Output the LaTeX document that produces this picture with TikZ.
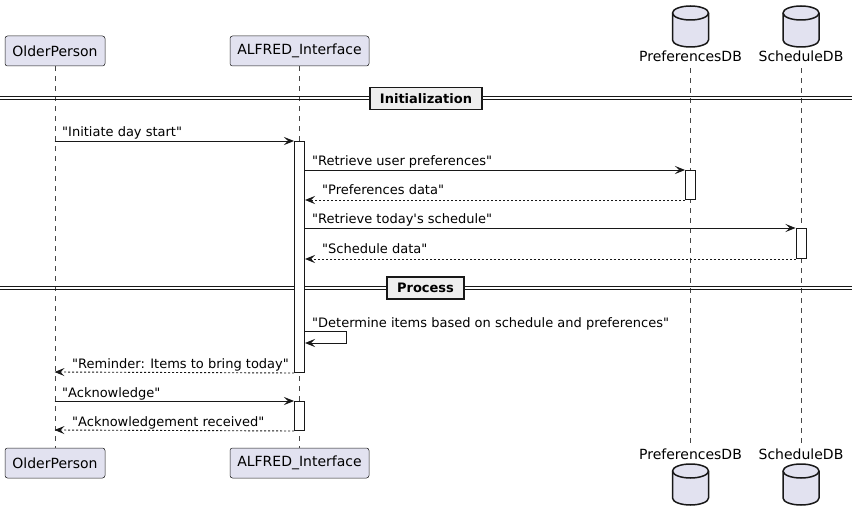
\documentclass[tikz,border=0pt]{standalone}
\usepackage{fontspec}
\newfontfamily\dvs{DejaVu Sans}
\usetikzlibrary{arrows.meta}
\definecolor{partfill}{HTML}{E2E2F0}
\definecolor{ink}{HTML}{181818}
\definecolor{divfill}{HTML}{EEEEEE}
\newcommand\dbcyl[3]{%
  \draw[dbshape] (#1-18,#2+7) -- (#1-18,#3-7)
    arc[start angle=180,end angle=0,x radius=18,y radius=7]
    -- (#1+18,#2+7)
    arc[start angle=0,end angle=-180,x radius=18,y radius=7] -- cycle;
  \draw[dbshape,fill=none] (#1-18,#2+7)
    arc[start angle=180,end angle=0,x radius=18,y radius=7];}
\begin{document}
\begin{tikzpicture}[x=1pt,y=-1pt,
  part/.style={draw=ink, fill=partfill, rounded corners=2.5pt, minimum height=30pt,
    inner sep=0pt, line width=0.5pt, font=\dvs\fontsize{14}{16}\selectfont},
  dblabel/.style={inner sep=0pt, font=\dvs\fontsize{14}{16}\selectfont},
  dbshape/.style={draw=ink, fill=partfill, line width=1.5pt},
  life/.style={draw=ink!80, line width=0.5pt, dash pattern=on 5pt off 5pt},
  act/.style={draw=ink, fill=white, line width=1pt, minimum width=10pt, inner sep=0pt},
  divline/.style={draw=ink, line width=1pt},
  divbox/.style={draw=ink, fill=divfill, line width=1.5pt, inner sep=0pt,
    font=\dvs\fontsize{13}{15}\selectfont\bfseries},
  msg/.style={draw=ink, line width=0.9pt, -{Stealth[length=10pt,width=8pt,inset=4pt]}},
  ret/.style={msg, dash pattern=on 2pt off 2pt},
  lbl/.style={anchor=base west, inner sep=0pt, font=\dvs\fontsize{13}{15}\selectfont}
]
\useasboundingbox (0,0) rectangle (858,526);

% participants (top)
\node[part, minimum width=100pt] (opT) at (55,51) {OlderPerson};
\node[part, minimum width=139pt] (aiT) at (299.5,51) {ALFRED\_Interface};
\dbcyl{690.5}{6}{47}
\node[dblabel, anchor=base] (pdbT) at (690.5,62) {PreferencesDB};
\dbcyl{801}{6}{47}
\node[dblabel, anchor=base] (sdbT) at (801,62) {ScheduleDB};

% participants (bottom)
\node[part, minimum width=100pt] (opB) at (55,463) {OlderPerson};
\node[part, minimum width=139pt] (aiB) at (299.5,463) {ALFRED\_Interface};
\node[dblabel, anchor=base] (pdbB) at (690.5,459.5) {PreferencesDB};
\dbcyl{690.5}{464}{505}
\node[dblabel, anchor=base] (sdbB) at (801,459.5) {ScheduleDB};
\dbcyl{801}{464}{505}

% lifelines
\draw[life] (opT.south) -- (opB.north);
\draw[life] (aiT.south) -- (aiB.north);
\draw[life] ([yshift=-6pt]pdbT.south) -- ([yshift=3pt]pdbB.north);
\draw[life] ([yshift=-6pt]sdbT.south) -- ([yshift=3pt]sdbB.north);

% dividers
\draw[divline] (0,97) -- (852,97);
\draw[divline] (0,100) -- (852,100);
\node[divbox, minimum width=112pt, minimum height=22pt] (init) at (426,98.5) {Initialization};
\draw[divline] (0,286.5) -- (852,286.5);
\draw[divline] (0,289.5) -- (852,289.5);
\node[divbox, minimum width=77pt, minimum height=22pt] (proc) at (425.5,288) {Process};

% activations
\node[act, minimum height=231pt, anchor=north] (a1) at (299.5,141) {};
\node[act, minimum height=29pt, anchor=north] (a2) at (690.5,170) {};
\node[act, minimum height=30pt, anchor=north] (a3) at (801,228) {};
\node[act, minimum height=29pt, anchor=north] (a4) at (299.5,401) {};

% message end points
\coordinate (m1s) at (54.5,141);
\coordinate (m7e) at (54.5,372);
\coordinate (m8s) at (54.5,401);
\coordinate (m9e) at (54.5,430);
\coordinate (s1) at (346,331);
\coordinate (s2) at (346,343);

\draw[msg] (m1s) -- (a1.north west);
\node[lbl] (t1) at (62,137) {"Initiate day start"};

\draw[msg] (a1.east |- a2.north) -- (a2.north west);
\node[lbl] (t2) at (312,166) {"Retrieve user preferences"};

\draw[ret] (a2.south west) -- (a1.east |- a2.south);
\node[lbl] (t3) at (322,195) {"Preferences data"};

\draw[msg] (a1.east |- a3.north) -- (a3.north west);
\node[lbl] (t4) at (312,224) {"Retrieve today's schedule"};

\draw[ret] (a3.south west) -- (a1.east |- a3.south);
\node[lbl] (t5) at (322,254) {"Schedule data"};

\draw[msg] (a1.east |- s1) -- (s1) -- (s2) -- (a1.east |- s2);
\node[lbl] (t6) at (312,327) {"Determine items based on schedule and preferences"};

\draw[ret] (a1.south west) -- (m7e);
\node[lbl] (t7) at (72,368) {"Reminder: Items to bring today"};

\draw[msg] (m8s) -- (a4.north west);
\node[lbl] (t8) at (62,397) {"Acknowledge"};

\draw[ret] (a4.south west) -- (m9e);
\node[lbl] (t9) at (72,426) {"Acknowledgement received"};
\end{tikzpicture}
\end{document}
